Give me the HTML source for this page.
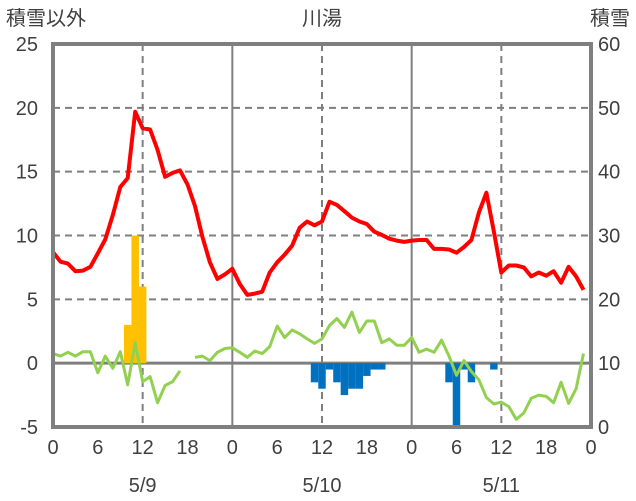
<!DOCTYPE html>
<html><head><meta charset="utf-8">
<style>
body{margin:0;background:#fff;}
svg{display:block;font-family:"Liberation Sans","Noto Sans CJK JP",sans-serif;}
text{fill:#404040;font-size:20px;}
</style></head>
<body>
<svg id="chart" width="636" height="501" viewBox="0 0 636 501" xmlns="http://www.w3.org/2000/svg">
<text x="6" y="25">積雪以外</text>
<text x="322" y="25" text-anchor="middle">川湯</text>
<text x="630" y="25" text-anchor="end">積雪</text>
<g id="grid"></g>
<g id="bars"></g>
<g id="lines"></g>
<g id="axes"></g>
</svg>
<script>
const hourTicks=[0,6,12,18,0,6,12,18,0,6,12,18,0];
const dateLabels=["5/9","5/10","5/11"];
const leftTicks=[25,20,15,10,5,0,-5];
const rightTicks=[60,50,40,30,20,10,0];
const temperature=[8.7,7.95,7.8,7.2,7.25,7.55,8.6,9.7,11.6,13.8,14.5,19.7,18.4,18.3,16.7,14.6,14.9,15.1,14.0,12.3,9.9,7.9,6.6,6.95,7.4,6.2,5.35,5.45,5.6,7.1,7.9,8.5,9.2,10.6,11.1,10.8,11.1,12.65,12.4,11.9,11.4,11.1,10.9,10.3,10.05,9.75,9.6,9.5,9.6,9.65,9.65,8.95,8.95,8.9,8.65,9.1,9.65,11.8,13.35,10.3,7.1,7.65,7.65,7.5,6.8,7.1,6.85,7.2,6.3,7.55,6.8,5.75];
const windOrOther=[0.75,0.55,0.85,0.55,0.9,0.9,-0.75,0.55,-0.4,0.9,-1.7,1.6,-1.45,-1.05,-3.1,-1.75,-1.45,-0.6,null,0.45,0.55,0.2,0.85,1.15,1.2,0.85,0.45,0.95,0.75,1.3,2.9,2.0,2.6,2.3,1.9,1.55,1.9,2.95,3.5,2.8,4.0,2.4,3.3,3.3,1.6,1.9,1.4,1.4,2.0,0.85,1.1,0.85,1.8,0.55,-0.95,0.2,-0.65,-1.3,-2.7,-3.2,-3.05,-3.4,-4.4,-3.9,-2.75,-2.5,-2.6,-3.1,-1.5,-3.15,-2.0,0.75];
const precipHours=[10,11,12];
const precipValues=[3,10,6];
const snowChangeHours=[35,36,37,38,39,40,41,42,43,44,53,54,55,56,59];
const snowChangeValues=[-1.5,-2,-0.5,-1.5,-2.5,-2,-2,-1,-0.5,-0.5,-1.5,-5,-0.5,-1.5,-0.5];
const snowDepth=[0,0,0,0,0,0,0,0,0,0,0,0,0,0,0,0];

const NS="http://www.w3.org/2000/svg";
const X0=53,X1=591,Y0=44,Y1=427;
const xs=h=>X0+(X1-X0)*h/72;
const yl=v=>Y1-(Y1-Y0)*(v+5)/30;
const yr=v=>Y1-(Y1-Y0)*v/60;
function mk(tag,attrs,parent){const e=document.createElementNS(NS,tag);for(const k in attrs)e.setAttribute(k,attrs[k]);document.getElementById(parent).appendChild(e);return e;}

leftTicks.forEach(v=>{
  if(v===25||v===-5||v===0)return;
  const e=mk('line',{x1:X0,x2:X1,y1:yl(v),y2:yl(v),stroke:'#7f7f7f','stroke-width':2,'stroke-dasharray':'7,5'},'grid');
  
  
});
for(let h=12;h<72;h+=12){
  const solid=h%24===0;
  const e=mk('line',{x1:xs(h),x2:xs(h),y1:Y0,y2:Y1,stroke:'#7f7f7f','stroke-width':2,'stroke-dasharray':solid?'none':'7,5'},'grid');
  
  
}
const bw=(X1-X0)/72;
precipHours.forEach((h,i)=>{
  const v=precipValues[i];
  const e=mk('rect',{x:xs(h)-bw/2,y:yl(v),width:bw,height:yl(0)-yl(v),fill:'#ffc000'},'bars');
  
  
});
snowChangeHours.forEach((h,i)=>{
  const v=snowChangeValues[i];
  const e=mk('rect',{x:xs(h)-bw/2,y:yl(0),width:bw,height:yl(v)-yl(0),fill:'#0070c0'},'bars');
  
  
});
const z=mk('line',{x1:X0,x2:X1,y1:yl(0),y2:yl(0),stroke:'#7f7f7f','stroke-width':3},'grid');



function pathFrom(arr,yf){let d='',pen=false;arr.forEach((v,h)=>{if(v===null){pen=false;return;}d+=(pen?'L':'M')+xs(h).toFixed(1)+','+yf(v).toFixed(1);pen=true;});return d;}
const g=mk('path',{d:pathFrom(windOrOther,yl),fill:'none',stroke:'#92d050','stroke-width':3,'stroke-linejoin':'round'},'lines');


const r=mk('path',{d:pathFrom(temperature,yl),fill:'none',stroke:'#ff0000','stroke-width':4,'stroke-linejoin':'round'},'lines');


const p=mk('path',{d:pathFrom(snowDepth,yr),fill:'none',stroke:'#7030a0','stroke-width':3},'lines');



const fr=mk('rect',{x:X0,y:Y0,width:X1-X0,height:Y1-Y0,fill:'none',stroke:'#7f7f7f','stroke-width':4},'axes');


leftTicks.forEach(v=>{
  const t=mk('text',{x:38,y:yl(v)+7,'text-anchor':'end'},'axes');t.textContent=v;
  
  
});
rightTicks.forEach(v=>{
  const t=mk('text',{x:598,y:yr(v)+7},'axes');t.textContent=v;
  
  
});
hourTicks.forEach((v,i)=>{
  const t=mk('text',{x:xs(i*6),y:454,'text-anchor':'middle'},'axes');t.textContent=v;
  
  
});
dateLabels.forEach((v,i)=>{
  const t=mk('text',{x:xs(12+24*i),y:492,'text-anchor':'middle'},'axes');t.textContent=v;
  
  
});
</script>
</body></html>
